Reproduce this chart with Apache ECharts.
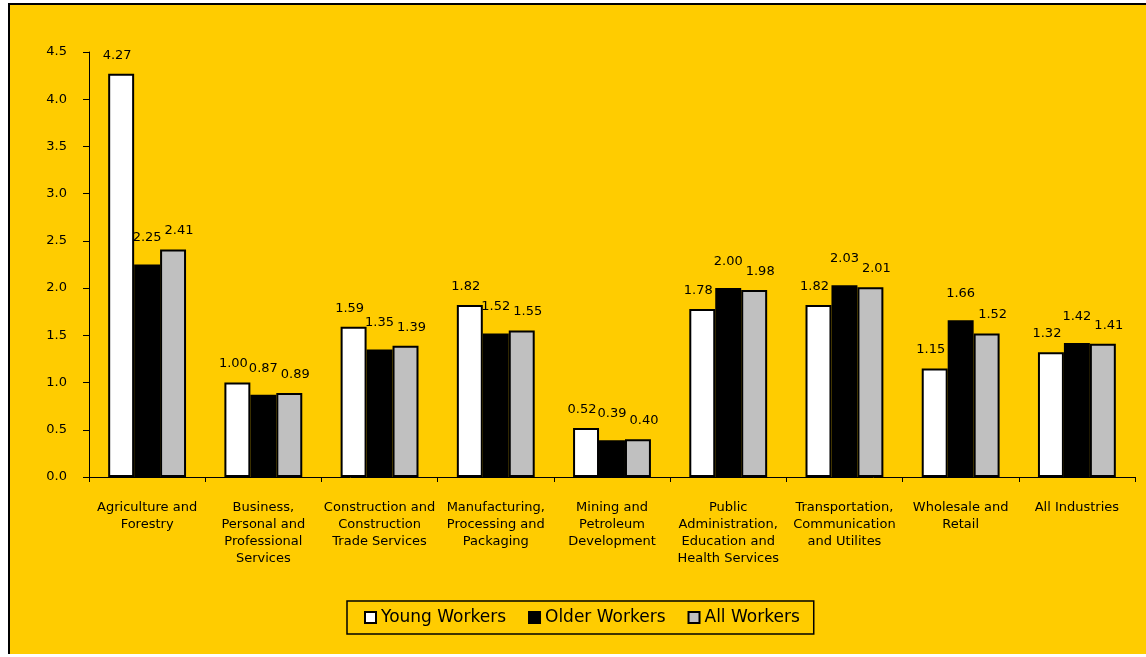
<!DOCTYPE html>
<html>
<head>
<meta charset="utf-8">
<script src="https://cdn.jsdelivr.net/npm/echarts@6/dist/echarts.min.js"></script>
<style>
  html, body { margin: 0; padding: 0; background: #ffffff; }
  #frame {
    position: absolute; left: 8px; top: 3px;
    width: 1136px; height: 649px;
    border-left: 2px solid #000; border-top: 2px solid #000;
    background: #FFCC00;
  }
  #chart { width: 1136px; height: 649px; }
</style>
</head>
<body>
<div id="frame"><div id="chart"></div></div>
<script>
// Industry groups along the x axis
const categories = [
  'Agriculture and\nForestry',
  'Business,\nPersonal and\nProfessional\nServices',
  'Construction and\nConstruction\nTrade Services',
  'Manufacturing,\nProcessing and\nPackaging',
  'Mining and\nPetroleum\nDevelopment',
  'Public\nAdministration,\nEducation and\nHealth Services',
  'Transportation,\nCommunication\nand Utilites',
  'Wholesale and\nRetail',
  'All Industries'
];

const youngWorkers = [4.27, 1.00, 1.59, 1.82, 0.52, 1.78, 1.82, 1.15, 1.32];
const olderWorkers = [2.25, 0.87, 1.35, 1.52, 0.39, 2.00, 2.03, 1.66, 1.42];
const allWorkers   = [2.41, 0.89, 1.39, 1.55, 0.40, 1.98, 2.01, 1.52, 1.41];

const seriesNames = ['Young Workers', 'Older Workers', 'All Workers'];

const FONT = '"DejaVu Sans", Verdana, sans-serif';

function barSeries(name, data, color, labelOffset) {
  return {
    name: name,
    type: 'bar',
    data: data,
    barGap: '0%',
    barCategoryGap: '33%',
    itemStyle: { color: color, borderColor: '#000', borderWidth: 2 },
    label: {
      show: true,
      position: 'top',
      distance: 12,
      offset: labelOffset,
      color: '#000',
      fontFamily: FONT,
      fontSize: 13,
      formatter: p => p.value.toFixed(2)
    }
  };
}

const chart = echarts.init(document.getElementById('chart'));
chart.setOption({
  animation: false,
  backgroundColor: 'transparent',
  grid: { left: 79, right: 11, top: 47, bottom: 177, containLabel: false },
  legend: {
    left: 337, top: 596,
    data: seriesNames,
    borderColor: '#000', borderWidth: 1.5,
    padding: [8, 14, 8, 17],
    itemWidth: 11, itemHeight: 11, itemGap: 22,
    icon: 'rect',
    itemStyle: { borderColor: '#000', borderWidth: 2 },
    textStyle: { fontFamily: FONT, fontSize: 17, color: '#000' }
  },
  xAxis: {
    type: 'category',
    data: categories,
    axisLine: { lineStyle: { color: '#000', width: 1 } },
    axisTick: { show: true, alignWithLabel: false, length: 5, inside: false, lineStyle: { color: '#000' } },
    axisLabel: {
      color: '#000', fontFamily: FONT, fontSize: 13, lineHeight: 17,
      interval: 0, margin: 22
    },
    splitLine: { show: false }
  },
  yAxis: {
    type: 'value',
    min: 0, max: 4.5, interval: 0.5,
    axisLine: { show: true, lineStyle: { color: '#000', width: 1 } },
    axisTick: { show: true, length: 6, lineStyle: { color: '#000' } },
    axisLabel: {
      color: '#000', fontFamily: FONT, fontSize: 13, margin: 22,
      formatter: v => v.toFixed(1)
    },
    splitLine: { show: false }
  },
  series: [
    barSeries(seriesNames[0], youngWorkers, '#FFFFFF', [-4, 0]),
    barSeries(seriesNames[1], olderWorkers, '#000000', [0, -8]),
    barSeries(seriesNames[2], allWorkers, '#C0C0C0', [6, 0])
  ]
});
</script>
</body>
</html>
